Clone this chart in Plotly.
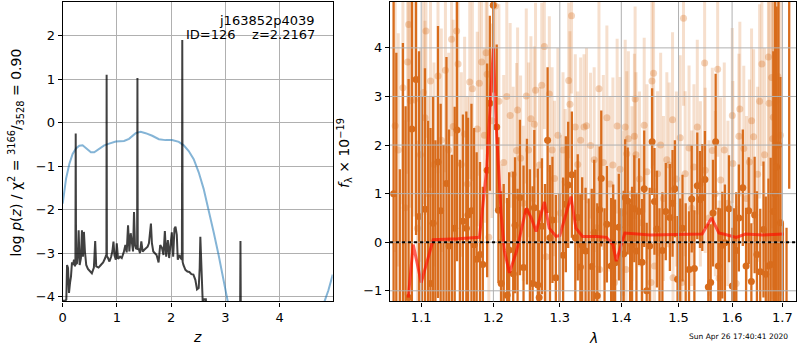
import math
import plotly.graph_objects as go

# ---------------- left panel: p(z) ----------------
z_pz = [0.000, 0.049, 0.067, 0.080, 0.098, 0.116, 0.135, 0.153, 0.171, 0.190,
        0.208, 0.226, 0.234, 0.240, 0.247, 0.263, 0.281, 0.294, 0.312, 0.336,
        0.355, 0.373, 0.391, 0.410, 0.434, 0.465, 0.502, 0.538, 0.575, 0.599,
        0.618, 0.661, 0.703, 0.746, 0.783, 0.801, 0.806, 0.810, 0.815, 0.832,
        0.862, 0.893, 0.917, 0.936, 0.954, 0.979, 0.997, 1.021, 1.058, 1.089,
        1.125, 1.156, 1.180, 1.205, 1.229, 1.254, 1.278, 1.297, 1.315, 1.333,
        1.352, 1.372, 1.378, 1.384, 1.401, 1.425, 1.450, 1.474, 1.505, 1.535,
        1.566, 1.590, 1.609, 1.627, 1.645, 1.670, 1.700, 1.731, 1.768, 1.798,
        1.829, 1.859, 1.884, 1.908, 1.939, 1.963, 1.988, 2.012, 2.037, 2.061,
        2.080, 2.104, 2.122, 2.153, 2.177, 2.198, 2.205, 2.212, 2.226, 2.263,
        2.300, 2.336, 2.373, 2.410, 2.446, 2.477, 2.508, 2.526, 2.538, 2.557,
        2.575, 2.590, 2.600, 2.640, 2.660, 2.800, 3.265, 3.278, 3.291, 4.980]
logp = [-4.09, -4.09, -4.06, -3.27, -3.34, -3.91, -3.68, -3.53, -3.21, -3.27,
        -3.15, -3.30, -3.25, -0.25, -3.25, -3.23, -2.96, -2.47, -3.27, -3.11,
        -2.47, -3.08, -2.51, -2.96, -3.27, -3.36, -3.42, -3.46, -3.33, -2.72,
        -3.30, -3.33, -3.27, -3.21, -3.11, -3.04, -3.05, 1.10, -3.07, -3.10,
        -3.19, -3.08, -2.95, -2.73, -3.04, -3.15, -2.77, -3.13, -3.08, -3.11,
        -2.98, -2.81, -2.98, -2.36, -2.96, -2.54, -2.73, -2.96, -2.05, -2.81,
        -2.89, -2.90, 1.03, -2.92, -2.89, -3.00, -2.73, -2.96, -2.92, -2.89,
        -2.85, -2.77, -2.57, -2.32, -2.77, -2.96, -3.00, -3.04, -3.21, -2.81,
        -2.87, -3.04, -2.49, -3.08, -2.70, -3.11, -2.81, -2.52, -3.08, -2.43,
        -2.39, -2.58, -3.15, -3.04, -3.11, -3.15, 1.90, -3.20, -3.27, -3.38,
        -3.42, -3.43, -3.48, -3.49, -3.61, -3.83, -3.80, -3.34, -2.62, -3.34,
        -4.14, -4.40, -4.06, -4.06, -4.50, -6.0, -6.0, -2.72, -6.0, -6.0]

z_prior = [0.000, 0.061, 0.122, 0.183, 0.245, 0.306, 0.367, 0.428, 0.520, 0.581,
           0.673, 0.765, 0.856, 0.979, 1.131, 1.223, 1.346, 1.437, 1.529, 1.651,
           1.774, 1.896, 2.018, 2.141, 2.232, 2.324, 2.416, 2.508, 2.599, 2.691,
           2.783, 2.875, 2.966, 3.040, 3.100, 3.500, 4.000, 4.600, 4.830, 4.900,
           4.980]
log_prior = [-1.86, -1.29, -0.95, -0.72, -0.59, -0.53, -0.52, -0.59, -0.68, -0.68,
             -0.59, -0.52, -0.48, -0.43, -0.42, -0.37, -0.24, -0.21, -0.24, -0.30,
             -0.38, -0.40, -0.40, -0.44, -0.52, -0.65, -0.84, -1.14, -1.52, -1.98,
             -2.51, -3.04, -3.65, -4.10, -4.60, -7.0, -8.0, -5.5, -4.10, -3.85,
             -3.49]

# ---------------- right panel: spectrum ----------------
lam_dark = [1.0640, 1.0675, 1.0720, 1.0760, 1.0795, 1.0834, 1.0877, 1.0932, 1.0971, 1.1010,
            1.1050, 1.1090, 1.1124, 1.1159, 1.1190, 1.1225, 1.1261, 1.1300, 1.1340, 1.1376,
            1.1415, 1.1453, 1.1485, 1.1525, 1.1567, 1.1615, 1.1639, 1.1687, 1.1725, 1.1760,
            1.1808, 1.1848, 1.1910, 1.1949, 1.1998, 1.2048, 1.2073, 1.2113, 1.2150, 1.2200,
            1.2230, 1.2290, 1.2317, 1.2355, 1.2390, 1.2444, 1.2495, 1.2540, 1.2581, 1.2607,
            1.2660, 1.2681, 1.2723, 1.2770, 1.2810, 1.2847, 1.2885, 1.2938, 1.2995, 1.3052,
            1.3095, 1.3132, 1.3190, 1.3245, 1.3284, 1.3326, 1.3355, 1.3410, 1.3460, 1.3510,
            1.3550, 1.3600, 1.3639, 1.3666, 1.3720, 1.3759, 1.3830, 1.3864, 1.3896, 1.3958,
            1.4000, 1.4040, 1.4066, 1.4109, 1.4150, 1.4183, 1.4221, 1.4258, 1.4301, 1.4354,
            1.4392, 1.4435, 1.4487, 1.4530, 1.4571, 1.4614, 1.4660, 1.4711, 1.4771, 1.4844,
            1.4892, 1.4934, 1.4982, 1.5030, 1.5072, 1.5130, 1.5191, 1.5240, 1.5289, 1.5343,
            1.5393, 1.5436, 1.5485, 1.5548, 1.5592, 1.5636, 1.5686, 1.5737, 1.5775, 1.5812,
            1.5862, 1.5940, 1.6004, 1.6040, 1.6080, 1.6131, 1.6208, 1.6272, 1.6324, 1.6376,
            1.6441, 1.6486, 1.6552, 1.6617, 1.6663, 1.6716, 1.6762, 1.6815, 1.6850, 1.6882,
            1.6920, 1.6960, 1.7010, 1.7085, 1.7140]
f_dark = [1.00, -1.40, -1.60, -1.30, -1.50, -1.14, 2.33, 3.35, 0.53, -1.40,
          0.68, -1.50, -0.85, 0.39, -1.50, 1.65, 0.65, -1.40, 1.21, -0.08,
          -1.40, 0.29, 2.31, -1.30, 0.43, 0.29, 0.56, 0.65, -0.05, -0.35,
          -0.25, -0.46, 1.48, 2.86, 4.88, 2.37, 0.66, -0.85, -1.40, -1.09,
          -0.16, -0.65, 0.35, -1.30, 0.92, -0.52, 0.63, -1.30, -0.85, 0.71,
          -0.88, -1.14, 0.33, -1.40, 2.10, 0.09, 0.46, -0.73, -1.40, -0.27,
          0.78, 1.18, 1.39, 0.09, 0.51, -0.51, -0.06, -0.18, -1.30, -0.50,
          0.20, -1.10, 0.67, 1.31, -1.30, 0.37, -0.49, -0.01, -0.42, 0.31,
          -1.30, -0.24, 0.92, 0.85, -1.30, -0.06, 0.69, -0.18, 0.63, -0.41,
          1.10, -1.00, -0.08, 2.07, 0.84, 0.27, -1.30, -0.17, 0.63, 0.51,
          0.80, 1.10, -0.76, -1.30, 0.29, -1.30, -0.56, 0.89, -0.54, 1.16,
          0.88, 0.92, 1.29, -0.92, -0.83, 0.60, 2.07, -0.49, -1.30, -0.06,
          -0.01, 0.69, -0.90, -1.30, -0.17, 0.50, 1.12, -0.49, 0.65, -0.81,
          0.56, -0.25, -0.61, 0.26, -0.66, -0.49, -0.46, 0.63, 1.00, 1.55,
          2.00, 0.40, -1.30, -2.50, 6.00]
err_dark = [5.0, 5.3, 3.1, 5.4, 4.3, 4.5, 3.8, 3.2, 3.4, 4.4,
            2.9, 4.0, 3.2, 2.6, 3.6, 2.8, 2.2, 3.4, 2.6, 2.4,
            3.2, 2.5, 2.7, 3.0, 2.2, 2.4, 2.0, 2.2, 2.4, 2.2,
            1.9, 1.6, 2.2, 1.8, 1.8, 1.7, 1.5, 1.9, 2.6, 2.0,
            1.6, 2.1, 1.4, 2.4, 1.6, 2.1, 1.5, 2.8, 2.0, 1.6,
            2.4, 1.8, 1.4, 2.6, 1.5, 1.5, 1.3, 1.7, 2.4, 1.6,
            1.4, 1.3, 1.3, 1.4, 1.3, 1.5, 1.4, 1.3, 2.2, 1.6,
            1.5, 1.9, 1.3, 1.4, 2.0, 1.2, 1.4, 1.2, 1.3, 1.1,
            2.0, 1.3, 1.2, 1.1, 2.1, 1.2, 1.1, 1.2, 1.1, 1.3,
            1.2, 1.4, 1.2, 1.1, 1.1, 1.2, 2.0, 1.2, 1.0, 1.1,
            1.1, 1.0, 1.3, 2.2, 1.1, 2.1, 1.2, 1.1, 1.2, 1.1,
            1.0, 1.1, 1.0, 1.3, 1.2, 1.1, 1.4, 1.2, 2.0, 1.1,
            1.2, 1.1, 1.2, 2.0, 1.2, 1.1, 1.2, 1.2, 1.1, 1.2,
            1.2, 1.3, 1.3, 1.4, 1.6, 1.8, 2.2, 3.3, 4.2, 3.3,
            3.8, 3.0, 1.7, 2.8, 4.9]

lam_light = [1.0660, 1.0700, 1.0760, 1.0790, 1.0821, 1.0834, 1.0856, 1.0909, 1.0950, 1.0990,
             1.1030, 1.1050, 1.1063, 1.1100, 1.1124, 1.1170, 1.1225, 1.1270, 1.1326, 1.1370,
             1.1410, 1.1432, 1.1480, 1.1500, 1.1545, 1.1591, 1.1630, 1.1663, 1.1700, 1.1769,
             1.1798, 1.1832, 1.1870, 1.1895, 1.1910, 1.1934, 1.1980, 1.2028, 1.2080, 1.2110,
             1.2150, 1.2195, 1.2245, 1.2290, 1.2340, 1.2355, 1.2400, 1.2440, 1.2485, 1.2520,
             1.2555, 1.2607, 1.2625, 1.2685, 1.2720, 1.2760, 1.2787, 1.2837, 1.2880, 1.2917,
             1.2970, 1.3010, 1.3050, 1.3085, 1.3140, 1.3160, 1.3185, 1.3245, 1.3284, 1.3330,
             1.3385, 1.3425, 1.3490, 1.3550, 1.3590, 1.3628, 1.3639, 1.3700, 1.3759, 1.3810,
             1.3859, 1.3887, 1.3930, 1.3980, 1.4030, 1.4066, 1.4080, 1.4093, 1.4120, 1.4180,
             1.4223, 1.4235, 1.4250, 1.4310, 1.4350, 1.4392, 1.4440, 1.4510, 1.4527, 1.4555,
             1.4571, 1.4626, 1.4680, 1.4730, 1.4790, 1.4833, 1.4892, 1.4900, 1.4960, 1.5030,
             1.5060, 1.5090, 1.5120, 1.5191, 1.5240, 1.5281, 1.5343, 1.5400, 1.5479, 1.5490,
             1.5560, 1.5623, 1.5680, 1.5724, 1.5750, 1.5781, 1.5850, 1.5920, 1.6004, 1.6015,
             1.6080, 1.6131, 1.6150, 1.6227, 1.6280, 1.6337, 1.6380, 1.6421, 1.6500, 1.6540,
             1.6585, 1.6640, 1.6716, 1.6729, 1.6782, 1.6802, 1.6815, 1.6870, 1.6909, 1.6960]
f_light = [2.40, 1.90, 3.18, 0.71, 3.71, 4.48, 2.91, 2.93, 0.29, 1.80,
           3.08, 2.56, 4.35, 1.00, 3.32, 1.60, 3.42, 2.10, 3.54, 1.90,
           4.18, 2.38, 4.35, 3.67, 1.60, 2.23, 1.20, 3.30, 3.16, 2.33,
           3.27, 3.71, 2.20, 3.90, 3.46, 0.10, 2.50, 4.86, 2.90, 0.00,
           1.64, 3.00, 2.61, 1.40, 1.89, 2.72, 1.73, 0.80, 3.01, 1.90,
           2.54, 2.43, 3.13, 1.59, 3.23, 4.03, -0.30, 3.05, 1.90, 1.31,
           2.20, 0.60, 1.90, 1.24, 3.33, 2.84, 4.66, 2.37, 1.60, 2.10,
           2.37, 2.40, 1.99, 1.70, 0.30, 3.16, -0.56, 1.64, 2.56, 1.20,
           1.59, -0.83, 2.39, 1.50, 0.60, 2.37, -0.56, 1.82, 2.13, 1.00,
           2.18, 2.95, 1.80, 1.30, 0.40, 2.41, 1.45, -0.83, 3.32, 3.48,
           -0.49, 1.41, 2.00, 0.90, 1.70, 1.59, 2.52, -0.73, 1.30, 2.15,
           -0.83, 4.61, 1.41, 1.94, 0.70, 1.55, 2.37, 1.20, 3.69, 1.48,
           0.50, 1.89, 1.00, 3.56, -0.74, 1.28, 1.90, 0.80, 2.61, 1.62,
           -0.85, 2.18, 2.74, 1.93, 0.90, 1.65, 2.50, 2.17, 1.40, 2.90,
           3.67, 1.80, 3.81, 2.86, 3.39, 2.13, 2.57, 2.90, 3.41, 2.20]
err_light = [2.6, 2.4, 2.4, 1.8, 2.3, 2.0, 2.2, 2.4, 1.8, 2.2,
             2.3, 2.0, 2.2, 2.0, 2.2, 2.1, 2.0, 2.3, 2.1, 2.0,
             2.0, 2.2, 2.0, 2.1, 1.9, 2.0, 1.8, 2.0, 1.9, 2.0,
             1.9, 1.8, 1.8, 1.9, 1.7, 1.5, 2.0, 1.8, 2.0, 1.6,
             1.8, 2.2, 1.9, 1.8, 1.8, 1.7, 1.7, 1.6, 1.8, 1.8,
             1.7, 1.6, 1.8, 1.6, 1.7, 1.7, 1.5, 1.6, 1.7, 1.6,
             1.8, 1.6, 1.6, 1.5, 1.6, 1.5, 1.6, 1.5, 1.5, 1.7,
             1.5, 1.6, 1.5, 1.9, 1.7, 1.9, 1.6, 1.8, 1.9, 1.8,
             1.8, 1.6, 1.8, 1.9, 1.7, 1.8, 1.6, 1.7, 1.8, 1.8,
             1.7, 1.9, 1.7, 1.8, 1.6, 1.8, 1.8, 1.6, 1.8, 1.9,
             1.6, 1.7, 1.9, 1.7, 1.8, 1.7, 1.8, 1.6, 1.8, 1.7,
             1.6, 1.8, 1.7, 1.7, 1.6, 1.7, 1.8, 1.7, 1.8, 1.7,
             1.6, 1.7, 1.7, 1.8, 1.6, 1.7, 1.8, 1.7, 1.8, 1.7,
             1.6, 1.7, 1.8, 1.7, 1.7, 1.7, 1.9, 1.8, 1.8, 2.0,
             2.1, 2.2, 2.5, 2.8, 3.1, 3.3, 3.5, 3.8, 3.6, 3.3]

lam_model = [1.083, 1.0895, 1.100, 1.116, 1.150, 1.180, 1.190, 1.200, 1.204, 1.2114,
             1.216, 1.2234, 1.234, 1.2484, 1.256, 1.2635, 1.2761, 1.2835, 1.2941, 1.300,
             1.3176, 1.3255, 1.3361, 1.360, 1.3751, 1.386, 1.3915, 1.402, 1.406, 1.450,
             1.500, 1.5434, 1.5608, 1.5746, 1.5873, 1.6078, 1.626, 1.660, 1.7025]
f_model = [-1.14, -0.05, -0.83, 0.05, 0.07, 0.10, 1.45, 4.00, 2.40, 0.56,
           -0.18, -0.63, -0.18, 0.70, 0.50, 0.22, 0.83, 0.29, 0.12, 0.14,
           0.94, 0.29, 0.12, 0.12, 0.10, -0.05, -0.39, 0.02, 0.19, 0.15,
           0.16, 0.17, 0.50, 0.19, 0.16, 0.10, 0.17, 0.15, 0.17]

for a, b in [(z_pz, logp), (z_prior, log_prior), (lam_dark, f_dark), (lam_dark, err_dark),
             (lam_light, f_light), (lam_light, err_light), (lam_model, f_model)]:
    if len(a) != len(b):
        raise ValueError(f"length mismatch {len(a)} {len(b)}")

# tick labels
z_ticks = [0, 1, 2, 3, 4]
lnp_ticks = [-4, -3, -2, -1, 0, 1, 2]
lam_ticks = [1.1, 1.2, 1.3, 1.4, 1.5, 1.6, 1.7]
flux_ticks = [-1, 0, 1, 2, 3, 4]

FONT = "DejaVu Sans"
DARK = "rgb(216,108,28)"
GRID = "#b0b0b0"
W, H = 800.0, 350.0
DX = -3.0  # horizontal pixel correction


def px(x):
    return (x + DX) / W


def lab(v):
    s = f"{v:g}"
    return s.replace("-", "\u2212")


fig = go.Figure()
fig.add_trace(go.Scatter(x=z_prior, y=log_prior, mode="lines",
                         line=dict(color="rgba(31,119,180,0.55)", width=2),
                         xaxis="x", yaxis="y", showlegend=False))
fig.add_trace(go.Scatter(x=z_pz, y=logp, mode="lines",
                         line=dict(color="rgba(0,0,0,0.75)", width=2),
                         xaxis="x", yaxis="y", showlegend=False))
fig.add_trace(go.Scatter(x=lam_light, y=f_light, mode="markers",
                         marker=dict(size=7, color="rgba(216,108,28,0.30)", line=dict(width=0)),
                         error_y=dict(type="data", array=err_light, color="rgba(216,108,28,0.22)",
                                      thickness=3, width=0),
                         xaxis="x2", yaxis="y2", showlegend=False))
fig.add_trace(go.Scatter(x=lam_dark, y=f_dark, mode="markers",
                         marker=dict(size=7, color=DARK, line=dict(width=0)),
                         error_y=dict(type="data", array=err_dark, color=DARK,
                                      thickness=2.3, width=0),
                         xaxis="x2", yaxis="y2", showlegend=False))
fig.add_trace(go.Scatter(x=lam_model, y=f_model, mode="lines",
                         line=dict(color="rgba(255,10,0,0.65)", width=3),
                         xaxis="x2", yaxis="y2", showlegend=False))

xr2 = [0.025092, 0.237581]
shapes = []
for v in lam_ticks:
    fr = (math.log10(v) - xr2[0]) / (xr2[1] - xr2[0])
    shapes.append(dict(type="line", xref="x2 domain", yref="y2 domain", x0=fr, x1=fr, y0=0, y1=1,
                       line=dict(color=GRID, width=1), layer="above"))
for v in flux_ticks:
    shapes.append(dict(type="line", xref="x2 domain", yref="y2", x0=0, x1=1, y0=v, y1=v,
                       line=dict(color=GRID, width=1), layer="above"))
shapes.append(dict(type="line", xref="x2 domain", yref="y2", x0=0, x1=1, y0=0, y1=0,
                   line=dict(color="black", width=2, dash="dot"), layer="above"))

axis_common = dict(showline=True, mirror=True, linecolor="black", linewidth=1.3,
                   ticks="outside", ticklen=4, tickcolor="black", tickwidth=1,
                   zeroline=False, tickfont=dict(family=FONT, size=13, color="black"),
                   layer="above traces")

fig.update_layout(
    width=800, height=350, autosize=False,
    margin=dict(l=0, r=0, t=0, b=0),
    paper_bgcolor="white", plot_bgcolor="white",
    font=dict(family=FONT, color="black"),
    xaxis=dict(domain=[px(62), px(333.3)], range=[0, 4.978], anchor="y",
               tickvals=z_ticks, ticktext=[lab(v) for v in z_ticks],
               showgrid=True, gridcolor=GRID, gridwidth=1, **axis_common),
    yaxis=dict(domain=[0.1314, 0.9943], range=[-4.107, 2.775], anchor="x",
               tickvals=lnp_ticks, ticktext=[lab(v) for v in lnp_ticks],
               showgrid=True, gridcolor=GRID, gridwidth=1, **axis_common),
    xaxis2=dict(domain=[px(391), px(799)], type="log", range=xr2, anchor="y2",
                tickvals=lam_ticks, ticktext=[lab(v) for v in lam_ticks],
                showgrid=False, **axis_common),
    yaxis2=dict(domain=[0.1314, 0.9943], range=[-1.218, 4.945], anchor="x2",
                tickvals=flux_ticks, ticktext=[lab(v) for v in flux_ticks],
                showgrid=False, **axis_common),
    shapes=shapes,
)

ann = [
    dict(text="j163852p4039", x=px(318), y=1 - 21 / H, xanchor="right", yanchor="middle",
         font=dict(size=13)),
    dict(text="ID=126\u00a0\u00a0\u00a0\u00a0z=2.2167", x=px(318), y=1 - 34.5 / H,
         xanchor="right", yanchor="middle", font=dict(size=13)),
    dict(text="<i>z</i>", x=px(197.5), y=1 - 340 / H, xanchor="center", yanchor="middle",
         font=dict(size=14)),
    dict(text="<i>λ</i>", x=px(595), y=1 - 341 / H, xanchor="center", yanchor="middle",
         font=dict(size=14)),
    dict(text="log <i>p</i>(<i>z</i>) / χ<sup>2</sup> = <sup>3166</sup>/<sub>3528</sub> = 0.90",
         x=px(15), y=1 - 154 / H, xanchor="center", yanchor="middle", textangle=-90,
         font=dict(size=14)),
    dict(text="<i>f</i><sub>λ</sub> × 10<sup>−19</sup>", x=px(345), y=1 - 154 / H,
         xanchor="center", yanchor="middle", textangle=-90, font=dict(size=14)),
    dict(text="Sun Apr 26 17:40:41 2020", x=px(741.5), y=1 - 339 / H,
         xanchor="center", yanchor="middle", font=dict(size=7.5)),
]
for a in ann:
    a.update(xref="paper", yref="paper", showarrow=False)
    a["font"] = dict(family=FONT, color="black", **a["font"])
fig.update_layout(annotations=ann)

fig.write_html("out.html", config={"displayModeBar": False},
               post_script="document.body.style.margin='0px';document.body.style.padding='0px';")
